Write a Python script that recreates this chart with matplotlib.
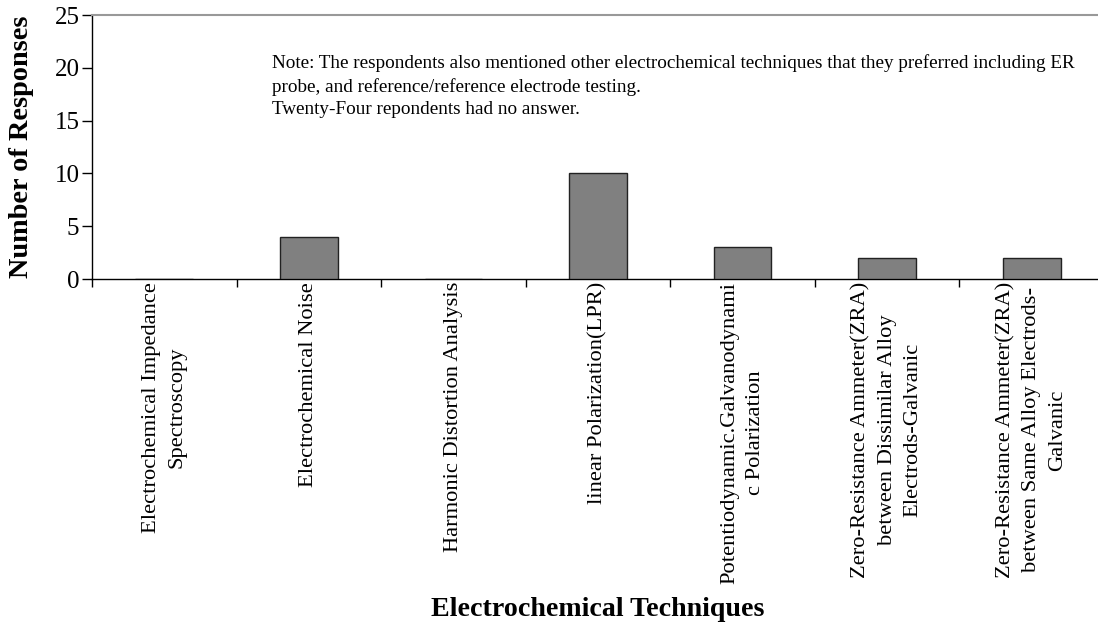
import matplotlib
matplotlib.use("Agg")
import matplotlib.pyplot as plt
import numpy as np

categories = [
    "Electrochemical Impedance\nSpectroscopy",
    "Electrochemical Noise",
    "Harmonic Distortion Analysis",
    "linear Polarization(LPR)",
    "Potentiodynamic.Galvanodynami\nc Polarization",
    "Zero-Resistance Ammeter(ZRA)\nbetween Dissimilar Alloy\nElectrods-Galvanic",
    "Zero-Resistance Ammeter(ZRA)\nbetween Same Alloy Electrods-\nGalvanic",
]
values = [0, 4, 0, 10, 3, 2, 2]
yticks = [0, 5, 10, 15, 20, 25]
note_lines = [
    "Note: The respondents also mentioned other electrochemical techniques that they preferred including ER",
    "probe, and reference/reference electrode testing.",
    "Twenty-Four repondents had no answer.",
]

plt.rcParams['font.family'] = ['Liberation Serif', 'DejaVu Serif']

W, H = 1098, 630
fig = plt.figure(figsize=(W / 100, H / 100), dpi=100)
left, right, top, bottom = 92, 1104, 15, 279
ax = fig.add_axes([left / W, 1 - bottom / H, (right - left) / W, (bottom - top) / H])

x = np.arange(len(categories))
ax.bar(x, values, width=0.4, color='#808080', edgecolor='#222222', linewidth=1.0, zorder=3)

ax.set_xlim(-0.5, len(categories) - 0.5)
ax.set_ylim(0, 25)
ax.set_yticks(yticks)
ax.tick_params(axis='y', direction='out', length=7, width=1, labelsize=18, pad=2)

ax.set_xticks(x)
ax.set_xticklabels(categories, rotation=90, fontsize=16.2, ha='center', va='top',
                   multialignment='center', linespacing=1.5)
ax.tick_params(axis='x', which='major', length=0, pad=2)
ax.set_xticks(np.arange(-0.5, len(categories), 1.0), minor=True)
ax.tick_params(axis='x', which='minor', direction='out', length=6, width=1)

for s in ['left', 'bottom']:
    ax.spines[s].set_color('black')
    ax.spines[s].set_linewidth(1.0)
ax.spines['top'].set_color('#999999')
ax.spines['top'].set_linewidth(1.5)
ax.spines['right'].set_visible(False)

fig.text(272 / W, 1 - 54 / H, "\n".join(note_lines),
         fontsize=13.8, va='top', ha='left', linespacing=1.42)

fig.text(22 / W, 1 - 147 / H, "Number of Responses", rotation=90, fontsize=20.3,
         fontweight='bold', ha='center', va='center')
fig.text(598 / W, 1 - 609 / H, "Electrochemical Techniques", fontsize=20.2,
         fontweight='bold', ha='center', va='center')

fig.savefig("out.png", dpi=100)
